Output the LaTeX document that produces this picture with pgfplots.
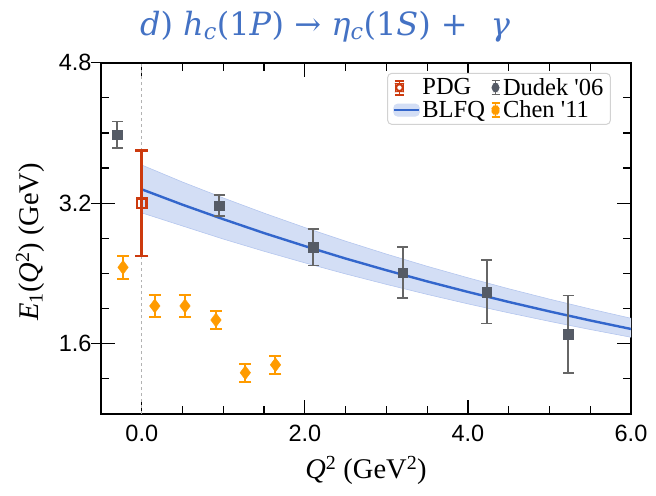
\documentclass[border=0pt]{standalone}
\usepackage{fontspec}
\setmainfont{Liberation Serif}
\newfontfamily\arial{Liberation Sans}
\newfontfamily\ttlfont{DejaVu Serif}
\usepackage{pgfplots}
\usepackage{pgfplotstable}
\pgfplotsset{compat=1.18}
\usepgfplotslibrary{fillbetween}

\definecolor{blfq}{HTML}{3366CC}
\definecolor{band}{HTML}{D3DEF5}
\definecolor{bandedge}{HTML}{B4C6EE}
\definecolor{pdg}{HTML}{CC3A0E}
\definecolor{dudekm}{HTML}{555B66}
\definecolor{dudeke}{HTML}{666666}
\definecolor{chen}{HTML}{FF9B00}
\definecolor{ttl}{HTML}{4472C4}

% Q2 E1 err
\pgfplotstableread{
x y ey
0.00 3.20 0.60
}\pdgdata

\pgfplotstableread{
x y ey
-0.30 3.98 0.15
0.95 3.17 0.12
2.10 2.70 0.21
3.20 2.41 0.29
4.23 2.19 0.36
5.23 1.71 0.44
}\dudekdata

\pgfplotstableread{
x y ey
-0.23 2.47 0.13
0.16 2.03 0.12
0.53 2.03 0.12
0.91 1.87 0.10
1.27 1.27 0.105
1.64 1.36 0.105
}\chendata

\pgfplotstableread{
x y lo hi
0.0 3.358 3.090 3.635
0.5 3.183 2.941 3.441
1.0 3.018 2.792 3.260
1.5 2.860 2.653 3.087
2.0 2.712 2.521 2.923
2.5 2.570 2.395 2.768
3.0 2.437 2.276 2.621
3.5 2.310 2.162 2.482
4.0 2.190 2.054 2.351
4.5 2.076 1.952 2.226
5.0 1.968 1.855 2.108
5.5 1.865 1.762 1.996
6.0 1.768 1.674 1.890
}\blfqdata

\begin{document}
\begin{tikzpicture}
\begin{axis}[
    scale only axis,
    width=530bp, height=351.3bp,
    xmin=-0.5, xmax=6, ymin=0.8, ymax=4.8,
    xtick={0,2,4,6},
    ytick={1.6,3.2,4.8},
    minor xtick={0.5,1,1.5,2.5,3,3.5,4.5,5,5.5},
    minor ytick={1.2,2.0,2.4,2.8,3.6,4.0,4.4},
    tick align=inside,
    major tick length=14bp, minor tick length=8bp,
    axis line style={line width=1.6bp},
    every tick/.style={black, line width=1.2bp},
    /pgf/number format/assume math mode=true,
    /pgf/number format/fixed,
    /pgf/number format/fixed zerofill,
    /pgf/number format/precision=1,
    tick label style={font=\arial\fontsize{23.5bp}{26bp}\selectfont},
    xticklabel style={yshift=-8bp},
    yticklabel style={xshift=-6bp},
    label style={font=\fontsize{28.5bp}{30bp}\selectfont},
    xlabel={\textit{Q}\textsuperscript{2} (GeV\textsuperscript{2})},
    ylabel={\textit{E}\textsubscript{1}(\textit{Q}\textsuperscript{2}) (GeV)},
    xlabel style={at={(axis description cs:0.5,0)}, anchor=center, yshift=-56bp},
    ylabel style={at={(axis description cs:0,0.49)}, anchor=center, yshift=71bp},
    clip=false,
    legend columns=2,
    legend cell align=left,
    legend style={at={(0.962,0.971)}, anchor=north east,
        draw=gray!35, line width=1bp, rounded corners=4bp,
        inner xsep=5bp, inner ysep=3bp,
        font=\fontsize{24.5bp}{24bp}\selectfont,
        /tikz/every even column/.append style={column sep=3bp},
        /tikz/column 2/.style={column sep=12bp}},
]
\draw[gray!60, dashed, line width=0.8bp] (axis cs:0,0.8) -- (axis cs:0,4.8);
% left major ticks also stick out
\draw[line width=1.2bp] (rel axis cs:0,0.2) -- ++(-10bp,0bp)
    (rel axis cs:0,0.6) -- ++(-10bp,0bp) (rel axis cs:0,1) -- ++(-10bp,0bp);

\addplot[name path=hi, draw=bandedge, line width=0.6bp, forget plot] table[x=x, y=hi]{\blfqdata};
\addplot[name path=lo, draw=bandedge, line width=0.6bp, forget plot] table[x=x, y=lo]{\blfqdata};
\addplot[band, forget plot] fill between[of=hi and lo];
\addplot[blfq, line width=2.4bp, forget plot] table[x=x, y=y]{\blfqdata};

\addplot[only marks, mark=diamond*, mark size=7bp, color=chen, forget plot,
    error bars/.cd, y dir=both, y explicit,
    error bar style={chen, line width=2bp},
    error mark options={rotate=90, mark size=6bp, line width=2bp, chen}]
    table[x=x, y=y, y error=ey]{\chendata};

\addplot[only marks, mark=square*, mark size=4.8bp, color=dudekm, forget plot,
    error bars/.cd, y dir=both, y explicit,
    error bar style={dudeke, line width=1.8bp},
    error mark options={rotate=90, mark size=5.5bp, line width=1.8bp, dudeke}]
    table[x=x, y=y, y error=ey]{\dudekdata};

\addplot[only marks, mark=square, mark size=4.6bp, color=pdg, forget plot,
    mark options={fill=white, draw=pdg, line width=2.6bp},
    error bars/.cd, y dir=both, y explicit,
    error bar style={pdg, line width=2.6bp},
    error mark options={rotate=90, mark size=6.5bp, line width=2.6bp, pdg}]
    table[x=x, y=y, y error=ey]{\pdgdata};

% legend: PDG, Dudek, BLFQ, Chen
\addlegendimage{legend image code/.code={
    \draw[pdg, line width=1.8bp] (0.2cm,-7bp) -- (0.2cm,7bp);
    \draw[pdg, line width=1.8bp] (0.2cm-4.5bp,-7bp) -- (0.2cm+4.5bp,-7bp)
        (0.2cm-4.5bp,7bp) -- (0.2cm+4.5bp,7bp);
    \draw[pdg, line width=1.8bp, fill=white] (0.2cm-3.5bp,-3.5bp) rectangle (0.2cm+3.5bp,3.5bp);
}}
\addlegendentry{PDG}
\addlegendimage{legend image code/.code={
    \draw[dudeke, line width=1.6bp] (0.2cm,-7bp) -- (0.2cm,7bp);
    \draw[dudeke, line width=1.6bp] (0.2cm-4bp,-7bp) -- (0.2cm+4bp,-7bp)
        (0.2cm-4bp,7bp) -- (0.2cm+4bp,7bp);
    \fill[dudekm] (0.2cm-3.5bp,-4bp) rectangle (0.2cm+3.5bp,4bp);
}}
\addlegendentry{Dudek \textquotesingle 06}
\addlegendimage{legend image code/.code={
    \fill[band] (0cm,-6bp) rectangle (0.9cm,6bp);
    \draw[blfq, line width=2.2bp] (0cm,0) -- (0.9cm,0);
}}
\addlegendentry{BLFQ}
\addlegendimage{legend image code/.code={
    \draw[chen, line width=1.6bp] (0.2cm,-7bp) -- (0.2cm,7bp);
    \draw[chen, line width=1.6bp] (0.2cm-4bp,-7bp) -- (0.2cm+4bp,-7bp)
        (0.2cm-4bp,7bp) -- (0.2cm+4bp,7bp);
    \fill[chen] (0.2cm,-6bp) -- (0.2cm+5bp,0) -- (0.2cm,6bp) -- (0.2cm-5bp,0) -- cycle;
}}
\addlegendentry{Chen \textquotesingle 11}
\end{axis}
\node[text=ttl, font=\ttlfont\fontsize{32bp}{36bp}\selectfont] at (224bp,387bp)
    {\textit{d}) \textit{h}\textsubscript{\textit{c}}(1\textit{P}) → \textit{η}\textsubscript{\textit{c}}(1\textit{S}) + \hspace{0.4em}\textit{γ}};
\path (-101bp,-82bp) rectangle (555bp,414bp);
\end{tikzpicture}
\end{document}
